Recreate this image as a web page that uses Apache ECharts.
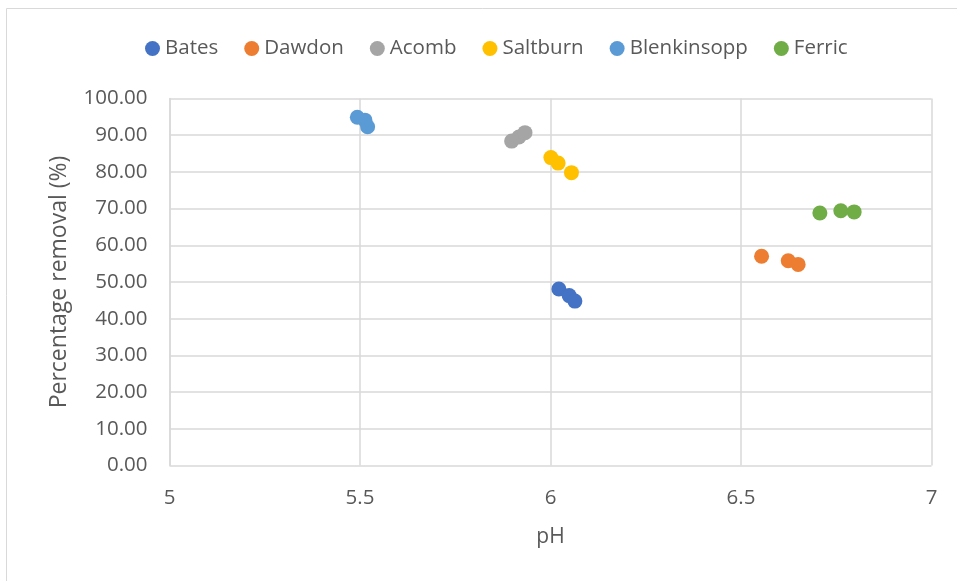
<!DOCTYPE html>
<html>
<head>
<meta charset="utf-8">
<script src="https://cdn.jsdelivr.net/npm/echarts@6/dist/echarts.min.js"></script>
<style>
  html, body { margin: 0; padding: 0; background: #fff; }
  #chart { width: 957px; height: 581px; }
</style>
</head>
<body>
<div id="chart"></div>
<script>
// series names, in legend order
const seriesNames = ['Bates', 'Dawdon', 'Acomb', 'Saltburn', 'Blenkinsopp', 'Ferric']
const seriesColors = ['#4472C4', '#ED7D31', '#A5A5A5', '#FFC000', '#5B9BD5', '#70AD47']

// [pH, percentage removal]
const bates = [[6.022, 48.1], [6.049, 46.3], [6.064, 44.8]]
const dawdon = [[6.554, 57.0], [6.624, 55.8], [6.650, 54.8]]
const acomb = [[5.898, 88.4], [5.917, 89.5], [5.933, 90.7]]
const saltburn = [[6.001, 83.9], [6.020, 82.4], [6.055, 79.8]]
const blenkinsopp = [[5.493, 94.9], [5.513, 94.1], [5.520, 92.3]]
const ferric = [[6.707, 68.8], [6.762, 69.4], [6.797, 69.1]]

const seriesData = [bates, dawdon, acomb, saltburn, blenkinsopp, ferric]

const textColor = '#595959'
const gridColor = '#D9D9D9'
const font = '"Open Sans", "Noto Sans", sans-serif'

const chart = echarts.init(document.getElementById('chart'))

chart.setOption({
  animation: false,
  textStyle: { fontFamily: font },
  graphic: [
    {
      type: 'rect',
      shape: { x: 6.5, y: 8.5, width: 980, height: 600 },
      style: { fill: 'none', stroke: gridColor, lineWidth: 1 },
      silent: true,
    },
  ],
  legend: {
    top: 33,
    left: 140,
    icon: 'circle',
    itemWidth: 15,
    itemHeight: 15,
    itemGap: 26,
    textStyle: { color: textColor, fontSize: 20.5, fontFamily: font },
    data: seriesNames,
  },
  grid: { left: 169.5, right: 25.5, top: 98.5, bottom: 115.5, containLabel: false },
  xAxis: {
    type: 'value',
    min: 5,
    max: 7,
    interval: 0.5,
    name: 'pH',
    nameLocation: 'middle',
    nameGap: 61,
    nameTextStyle: { color: textColor, fontSize: 21 },
    axisLine: { show: false },
    axisTick: { show: false },
    axisLabel: { color: textColor, fontSize: 20.5, margin: 22 },
    splitLine: { show: true, lineStyle: { color: gridColor, width: 1.5 } },
  },
  yAxis: {
    type: 'value',
    min: 0,
    max: 100,
    interval: 10,
    name: 'Percentage removal (%)',
    nameLocation: 'middle',
    nameGap: 99,
    nameTextStyle: { color: textColor, fontSize: 23 },
    axisLine: { show: true, lineStyle: { color: gridColor, width: 1.5 } },
    axisTick: { show: false },
    axisLabel: {
      color: textColor,
      fontSize: 20.5,
      margin: 22,
      formatter: (v) => v.toFixed(2),
    },
    splitLine: { show: true, lineStyle: { color: gridColor, width: 1.5 } },
  },
  series: seriesNames.map((name, i) => ({
    name,
    type: 'scatter',
    symbol: 'circle',
    symbolSize: 15,
    itemStyle: { color: seriesColors[i], opacity: 1 },
    data: seriesData[i],
  })),
})
</script>
</body>
</html>
